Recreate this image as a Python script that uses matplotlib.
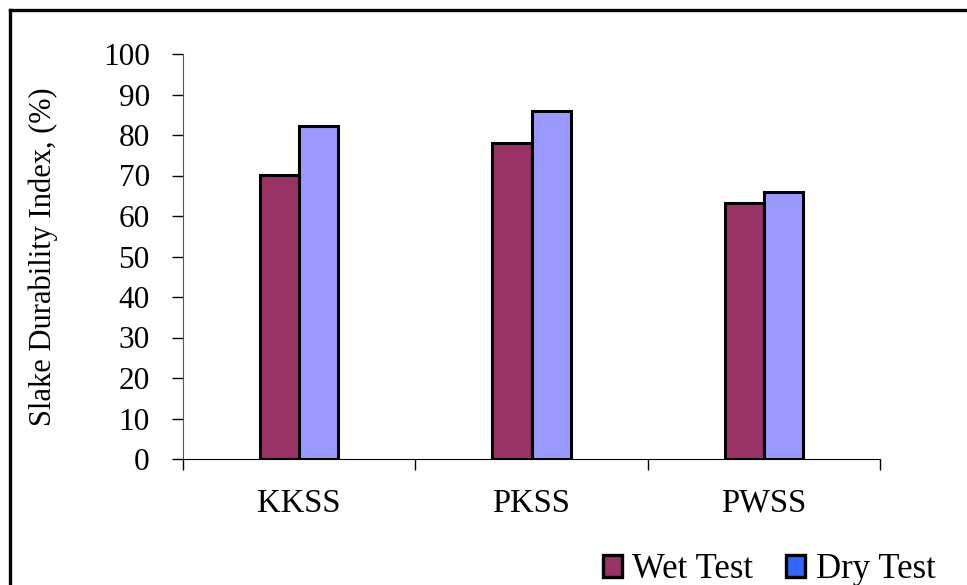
import numpy as np
import matplotlib.pyplot as plt
from matplotlib.patches import Patch
from matplotlib.lines import Line2D

# Slake durability index for each sandstone
bergarter = ["KKSS", "PKSS", "PWSS"]
wet_test = [70.1, 78.0, 63.2]
dry_test = [82.2, 85.9, 65.9]
y_ticks = [0, 10, 20, 30, 40, 50, 60, 70, 80, 90, 100]

plt.rcParams['font.family'] = ['Liberation Serif', 'DejaVu Serif']

fig = plt.figure(figsize=(9.67, 5.85), dpi=100)
ax = fig.add_axes([183/967, 1-459/585, (880-183)/967, (459-54)/585])

x = np.arange(len(bergarter))
b = 0.168
ax.bar(x - b/2, wet_test, b, color='#993366', edgecolor='black', linewidth=2.2, zorder=3)
ax.bar(x + b/2, dry_test, b, color='#9999FF', edgecolor='black', linewidth=2.2, zorder=3)

ax.set_xlim(-0.5, 2.5)
ax.set_ylim(0, 100)
ax.set_yticks(y_ticks)
ax.tick_params(axis='y', labelsize=22.5, length=8, width=1, pad=16, direction='out')

# kategorinavn midt i hver gruppe, tick-streker mellom gruppene
ax.set_xticks(x)
ax.set_xticklabels(bergarter)
ax.set_xticks([-0.5, 0.5, 1.5, 2.5], minor=True)
ax.tick_params(axis='x', which='major', length=0, labelsize=23.5, pad=21)
ax.tick_params(axis='x', which='minor', length=8, width=1, direction='out')

ax.spines['top'].set_visible(False)
ax.spines['right'].set_visible(False)
ax.spines['left'].set_color('#555555')

ax.set_ylabel("Slake Durability Index, (%)", fontsize=22, labelpad=32)

# forklaring
handles = [Patch(facecolor='#993366', edgecolor='black', linewidth=2.4, label='Wet Test'),
           Patch(facecolor='#3366FF', edgecolor='black', linewidth=2.4, label='Dry Test')]
fig.legend(handles=handles, loc='lower right', bbox_to_anchor=(1.0, -0.055), ncol=2,
           frameon=False, fontsize=25, handlelength=0.55, handleheight=0.6,
           handletextpad=0.3, columnspacing=0.95)

# ramme rundt figuren
fig.add_artist(Line2D([10/967, 10/967], [0, 1-10/585], color='black', linewidth=2.4))
fig.add_artist(Line2D([10/967, 1], [1-10/585, 1-10/585], color='black', linewidth=2.4))

fig.savefig("out.png", dpi=100)
